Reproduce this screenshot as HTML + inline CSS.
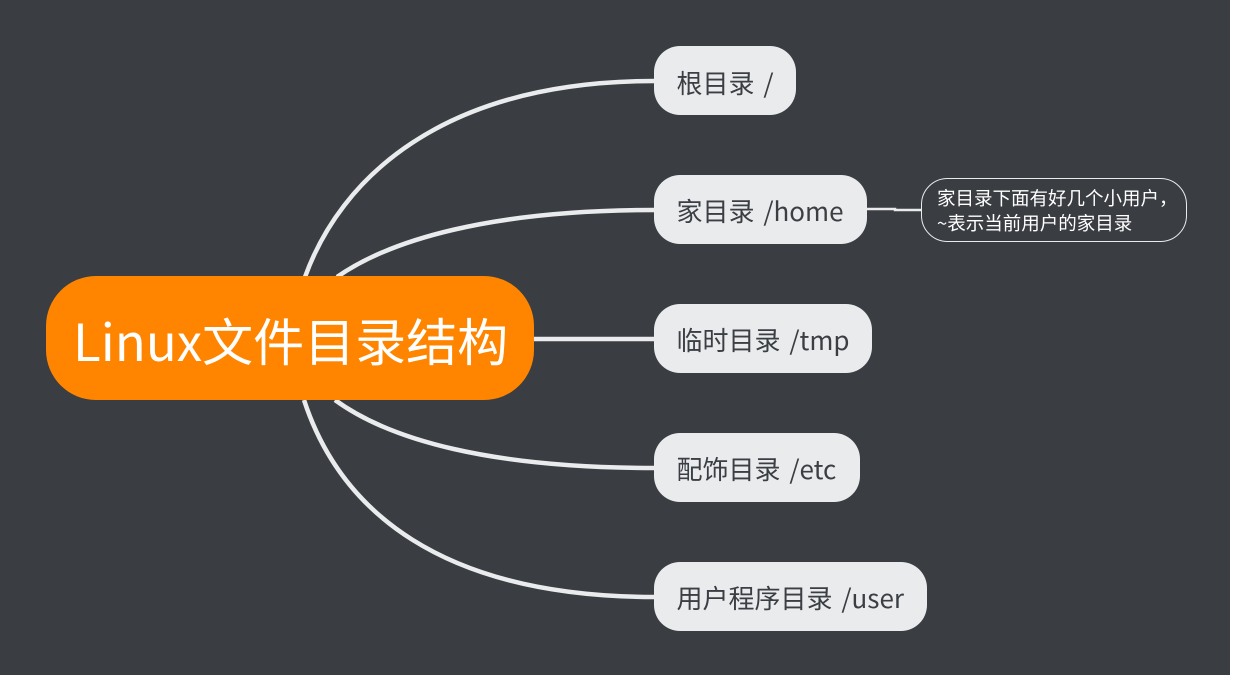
<!DOCTYPE html>
<html>
<head>
<meta charset="utf-8">
<style>
html,body{margin:0;padding:0;background:#fff}
body{width:1238px;height:679px;overflow:hidden;position:relative}
svg{position:absolute;left:0;top:0}
text{font-family:"Noto Sans CJK SC","Liberation Sans",sans-serif}
.t{font-size:26px;fill:#3b3e43;word-spacing:3px}
</style>
</head>
<body>
<svg width="1238" height="679" viewBox="0 0 1238 679" xmlns="http://www.w3.org/2000/svg">
<rect x="0" y="0" width="1230" height="675" fill="#3a3d42"/>
<g fill="none" stroke="#e9ebed" stroke-width="4.5">
<path d="M305 277C340 180 440 81 655 81"/>
<path d="M337 277C390 240 490 210 655 210"/>
<path d="M534 339H655"/>
<path d="M335 400C390 440 490 468 655 468"/>
<path d="M304 400C340 510 440 597 655 597"/>
<path d="M867 209H895V210H922" stroke-width="2.5"/>
</g>
<rect x="46" y="276" width="488" height="124" rx="50" fill="#ff8500"/>
<text x="73" y="361" font-size="51" fill="#fff">Linux文件目录结构</text>
<rect x="654" y="46" width="142" height="69" rx="26" fill="#e9ebed"/>
<rect x="654" y="175" width="213" height="69" rx="26" fill="#e9ebed"/>
<rect x="654" y="304" width="218" height="69" rx="26" fill="#e9ebed"/>
<rect x="654" y="433" width="206" height="69" rx="26" fill="#e9ebed"/>
<rect x="654" y="562" width="273" height="69" rx="26" fill="#e9ebed"/>
<text class="t" x="676.5" y="93">根目录 /</text>
<text class="t" x="676.5" y="221">家目录 /home</text>
<text class="t" x="676.5" y="350">临时目录 /tmp</text>
<text class="t" x="676.5" y="479">配饰目录 /etc</text>
<text class="t" x="676.5" y="608">用户程序目录 /user</text>
<rect x="921.5" y="178.5" width="265" height="63" rx="26" fill="#3a3d42" stroke="#e9ebed" stroke-width="1"/>
<text x="937" y="205" font-size="18.5" fill="#fff">家目录下面有好几个小用户，</text>
<text x="937" y="230" font-size="18.5" fill="#fff">~表示当前用户的家目录</text>
</svg>
</body>
</html>
